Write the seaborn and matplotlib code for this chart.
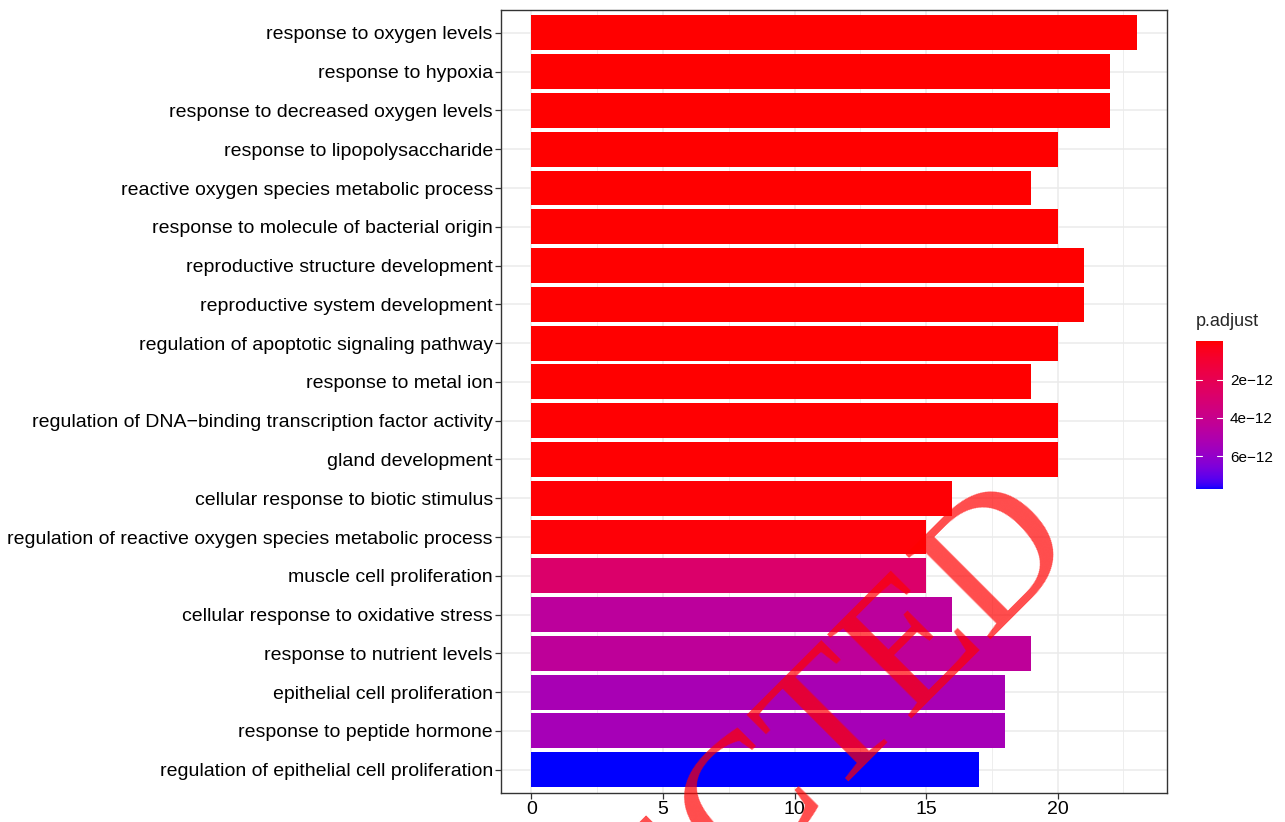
import numpy as np
import pandas as pd
import matplotlib
matplotlib.use("Agg")
import matplotlib.pyplot as plt
import seaborn as sns
from matplotlib.colors import ListedColormap, Normalize
from matplotlib.cm import ScalarMappable

# GO terms, top to bottom as drawn
terms = [
    "response to oxygen levels",
    "response to hypoxia",
    "response to decreased oxygen levels",
    "response to lipopolysaccharide",
    "reactive oxygen species metabolic process",
    "response to molecule of bacterial origin",
    "reproductive structure development",
    "reproductive system development",
    "regulation of apoptotic signaling pathway",
    "response to metal ion",
    "regulation of DNA\u2212binding transcription factor activity",
    "gland development",
    "cellular response to biotic stimulus",
    "regulation of reactive oxygen species metabolic process",
    "muscle cell proliferation",
    "cellular response to oxidative stress",
    "response to nutrient levels",
    "epithelial cell proliferation",
    "response to peptide hormone",
    "regulation of epithelial cell proliferation",
]
counts = [23, 22, 22, 20, 19, 20, 21, 21, 20, 19, 20, 20, 16, 15, 15, 16, 19, 18, 18, 17]
p_adjust = [1e-15, 2e-15, 2e-15, 5e-15, 8e-15, 1e-14, 1.5e-14, 1.5e-14, 2e-14, 3e-14,
            4e-14, 5e-14, 8e-14, 1.2e-13, 2.8e-12, 4.5e-12, 4.4e-12, 5.3e-12, 5.4e-12, 7.7e-12]
cbar_ticks = [2e-12, 4e-12, 6e-12]
cbar_labels = ["2e\u221212", "4e\u221212", "6e\u221212"]


# ggplot-style red -> blue gradient, interpolated in Lab space
def srgb_to_lab(rgb):
    c = np.asarray(rgb, dtype=float)
    lin = np.where(c <= 0.04045, c / 12.92, ((c + 0.055) / 1.055) ** 2.4)
    m = np.array([[0.4124, 0.3576, 0.1805],
                  [0.2126, 0.7152, 0.0722],
                  [0.0193, 0.1192, 0.9505]])
    xyz = m @ lin / np.array([0.95047, 1.0, 1.08883])
    f = np.where(xyz > 216 / 24389, np.cbrt(xyz), (24389 / 27 * xyz + 16) / 116)
    return np.array([116 * f[1] - 16, 500 * (f[0] - f[1]), 200 * (f[1] - f[2])])


def lab_to_srgb(lab):
    L, a, b = lab
    fy = (L + 16) / 116
    fx = fy + a / 500
    fz = fy - b / 200
    f = np.array([fx, fy, fz])
    xyz = np.where(f ** 3 > 216 / 24389, f ** 3, (116 * f - 16) / (24389 / 27))
    xyz = xyz * np.array([0.95047, 1.0, 1.08883])
    minv = np.array([[3.2406, -1.5372, -0.4986],
                     [-0.9689, 1.8758, 0.0415],
                     [0.0557, -0.2040, 1.0570]])
    lin = np.clip(minv @ xyz, 0, 1)
    c = np.where(lin <= 0.0031308, 12.92 * lin, 1.055 * lin ** (1 / 2.4) - 0.055)
    return np.clip(c, 0, 1)


lab_lo = srgb_to_lab([1, 0, 0])
lab_hi = srgb_to_lab([0, 0, 1])
cmap = ListedColormap([lab_to_srgb(lab_lo + t * (lab_hi - lab_lo)) for t in np.linspace(0, 1, 256)])
norm = Normalize(vmin=min(p_adjust), vmax=max(p_adjust))
bar_colors = [cmap(norm(p)) for p in p_adjust]

df = pd.DataFrame({"Description": terms, "Count": counts, "p.adjust": p_adjust})

sns.set_style("white")
plt.rcParams["font.family"] = ["Liberation Sans", "DejaVu Sans"]

fig = plt.figure(figsize=(12.85, 8.22), dpi=100)
ax = fig.add_axes([0.390, 0.0353, 0.518, 0.953])

sns.barplot(data=df, x="Count", y="Description", hue="Description", order=terms,
            palette=bar_colors, legend=False, width=0.9, saturation=1,
            linewidth=0, ax=ax)

ax.set_xlim(-1.15, 24.15)
ax.set_ylim(len(terms) - 0.4, -0.6)
ax.set_xticks([0, 5, 10, 15, 20])
ax.set_xticks([2.5, 7.5, 12.5, 17.5, 22.5], minor=True)
ax.grid(True, which="major", color="#EBEBEB", linewidth=1.1)
ax.grid(True, which="minor", axis="x", color="#EBEBEB", linewidth=0.6)
ax.set_axisbelow(True)
ax.set_xlabel("")
ax.set_ylabel("")
for s in ax.spines.values():
    s.set_color("#333333")
    s.set_linewidth(1.0)
ax.tick_params(axis="both", which="major", length=4, width=0.9, color="#333333",
               labelsize=14, labelcolor="black", pad=2, left=True, bottom=True)
ax.tick_params(axis="x", which="minor", length=0)

# colourbar legend
cax = fig.add_axes([0.9307, 0.405, 0.021, 0.180])
sm = ScalarMappable(norm=norm, cmap=cmap)
cb = fig.colorbar(sm, cax=cax)
cb.outline.set_visible(False)
cax.invert_yaxis()
cb.set_ticks(cbar_ticks)
cb.set_ticklabels(cbar_labels)
cax.tick_params(axis="y", length=0, labelsize=11, labelcolor="black", pad=5)
for t in cbar_ticks:
    cax.plot([0, 0.22], [t, t], color="white", linewidth=0.8, transform=cax.get_yaxis_transform())
    cax.plot([0.78, 1], [t, t], color="white", linewidth=0.8, transform=cax.get_yaxis_transform())
fig.text(0.9307, 0.598, "p.adjust", fontsize=13, ha="left", va="bottom")

# stamp watermark over the plot
fig.text(1080 / 1285, 1 - 545 / 822, "REJECTED", fontsize=132, color="red", alpha=0.7,
         family=["Liberation Serif", "DejaVu Serif"], rotation=45, rotation_mode="anchor",
         ha="right", va="baseline")

fig.savefig("out.png", dpi=100)
